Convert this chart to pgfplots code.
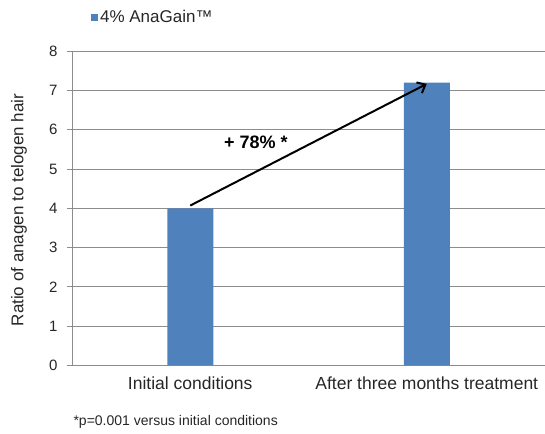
\documentclass[border=0pt]{standalone}
\usepackage{pgfplots}
\pgfplotsset{compat=1.18}
\usetikzlibrary{arrows.meta}
\usepackage{fontspec}
\setmainfont{Liberation Sans}
\definecolor{barblue}{HTML}{4F81BD}
\definecolor{gridgray}{HTML}{8C8C8C}
\begin{document}
\begin{tikzpicture}[x=1pt,y=1pt]
\path[use as bounding box] (0,0) rectangle (545,433);
\begin{axis}[
  at={(72pt,67.7pt)}, anchor=south west,
  scale only axis, width=473pt, height=314pt,
  xmin=-0.5, xmax=1.5, ymin=0, ymax=8,
  ytick={0,1,...,8},
  xtick={0,1},
  xticklabels={Initial conditions, After three months treatment},
  extra x ticks={0.5}, extra x tick labels={},
  extra x tick style={major tick length=5pt, tick style={gridgray, line width=0.8pt}},
  axis x line=bottom, axis y line=left,
  axis line style={gridgray, line width=0.8pt, -},
  x axis line style={-}, y axis line style={-},
  tick align=outside,
  x tick style={draw=none},
  y tick style={gridgray, line width=0.8pt},
  major tick length=5pt,
  ymajorgrids, grid style={gridgray, line width=0.8pt},
  /pgf/number format/assume math mode=true,
  yticklabel style={font=\fontsize{15}{17}\selectfont, xshift=-6pt, text=black!85},
  xticklabel style={font=\fontsize{17.5}{20}\selectfont, yshift=-3pt, text=black!85},
  legend style={at={(0.04,1.109)}, anchor=west, draw=none, fill=none, inner sep=0pt,
    font=\fontsize{17}{19}\selectfont, text=black!85},
  legend image code/.code={\fill[barblue] (-3pt,-3.5pt) rectangle (4pt,3.5pt);},
]
\addplot[ybar, bar width=46pt, fill=barblue, draw=none] coordinates {(0,4) (1,7.2)};
\addlegendentry{4\% AnaGain™}
\draw[line width=2pt, -{Straight Barb[length=7pt,width=12pt,line width=2pt]}] (axis cs:0,4.07) -- (axis cs:1,7.17);
\node[font=\bfseries\fontsize{18}{20}\selectfont] at (axis cs:0.278,5.69) {+ 78\% *};
\end{axis}
\node[rotate=90, font=\fontsize{17}{20}\selectfont, text=black!85] at (19,223) {Ratio of anagen to telogen hair};
\node[anchor=west, font=\fontsize{14}{16}\selectfont, text=black!85] at (70,11) {*p=0.001 versus initial conditions};
\end{tikzpicture}
\end{document}
